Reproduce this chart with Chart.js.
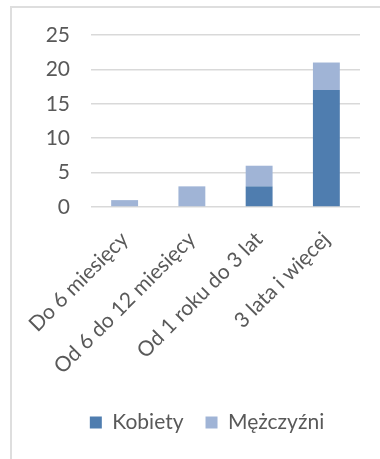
<!DOCTYPE html>
<html lang="pl">
<head>
<meta charset="utf-8">
<script src="https://cdn.jsdelivr.net/npm/chart.js@4/dist/chart.umd.min.js"></script>
<style>
  html, body { margin: 0; padding: 0; background: #ffffff; overflow: hidden; }
  #wrap { position: relative; width: 380px; height: 459px; overflow: hidden; }
  #frame { position: absolute; left: 10px; top: 6px; width: 420px; height: 470px;
           border: 2px solid #dedede; box-sizing: border-box; }
  #c { position: absolute; left: 0; top: 0; }
</style>
</head>
<body>
<div id="wrap">
  <div id="frame"></div>
  <canvas id="c" width="380" height="459"></canvas>
</div>
<script>
// Okres pozostawania bez pracy
const categories = ['Do 6 miesięcy', 'Od 6 do 12 miesięcy', 'Od 1 roku do 3 lat', '3 lata i więcej'];
const kobiety = [0, 0, 3, 17];
const mezczyzni = [1, 3, 3, 4];
const yTicks = [0, 5, 10, 15, 20, 25];

const textColor = '#595959';
const fontFamily = 'Lato, "Liberation Sans", sans-serif';

// The legend is centred under the whole frame, which runs past the right edge.
const legendShift = {
  id: 'legendShift',
  afterLayout(chart) {
    const lg = chart.legend;
    if (lg) { lg.left += 5; lg.right += 5; }
  }
};

new Chart(document.getElementById('c'), {
  type: 'bar',
  data: {
    labels: categories,
    datasets: [
      { label: 'Kobiety', data: kobiety, backgroundColor: '#4f7daf',
        barPercentage: 0.4, categoryPercentage: 1.0 },
      { label: 'Mężczyźni', data: mezczyzni, backgroundColor: '#a0b4d6',
        barPercentage: 0.4, categoryPercentage: 1.0 }
    ]
  },
  plugins: [legendShift],
  options: {
    responsive: false,
    animation: false,
    layout: { autoPadding: false, padding: { top: 35, left: 44, right: 20, bottom: 16 } },
    plugins: {
      tooltip: { enabled: false },
      legend: {
        position: 'bottom',
        labels: {
          color: textColor,
          font: { family: fontFamily, size: 21 },
          boxWidth: 12, boxHeight: 12,
          padding: 22
        }
      }
    },
    scales: {
      x: {
        stacked: true,
        grid: { display: false, drawTicks: false },
        border: { display: false },
        ticks: {
          color: textColor,
          font: { family: fontFamily, size: 21 },
          maxRotation: 45, minRotation: 45,
          padding: 20, autoSkip: false
        },
        afterFit(scale) { scale.height = 183; }
      },
      y: {
        stacked: true,
        min: 0, max: 25,
        afterBuildTicks(scale) { scale.ticks = yTicks.map(v => ({ value: v })); },
        grid: { color: '#d9d9d9', lineWidth: 1.5, drawTicks: false },
        border: { display: false },
        ticks: {
          color: textColor,
          font: { family: fontFamily, size: 21 },
          padding: 21
        },
        afterFit(scale) { scale.width = 47; }
      }
    }
  }
});
</script>
</body>
</html>
